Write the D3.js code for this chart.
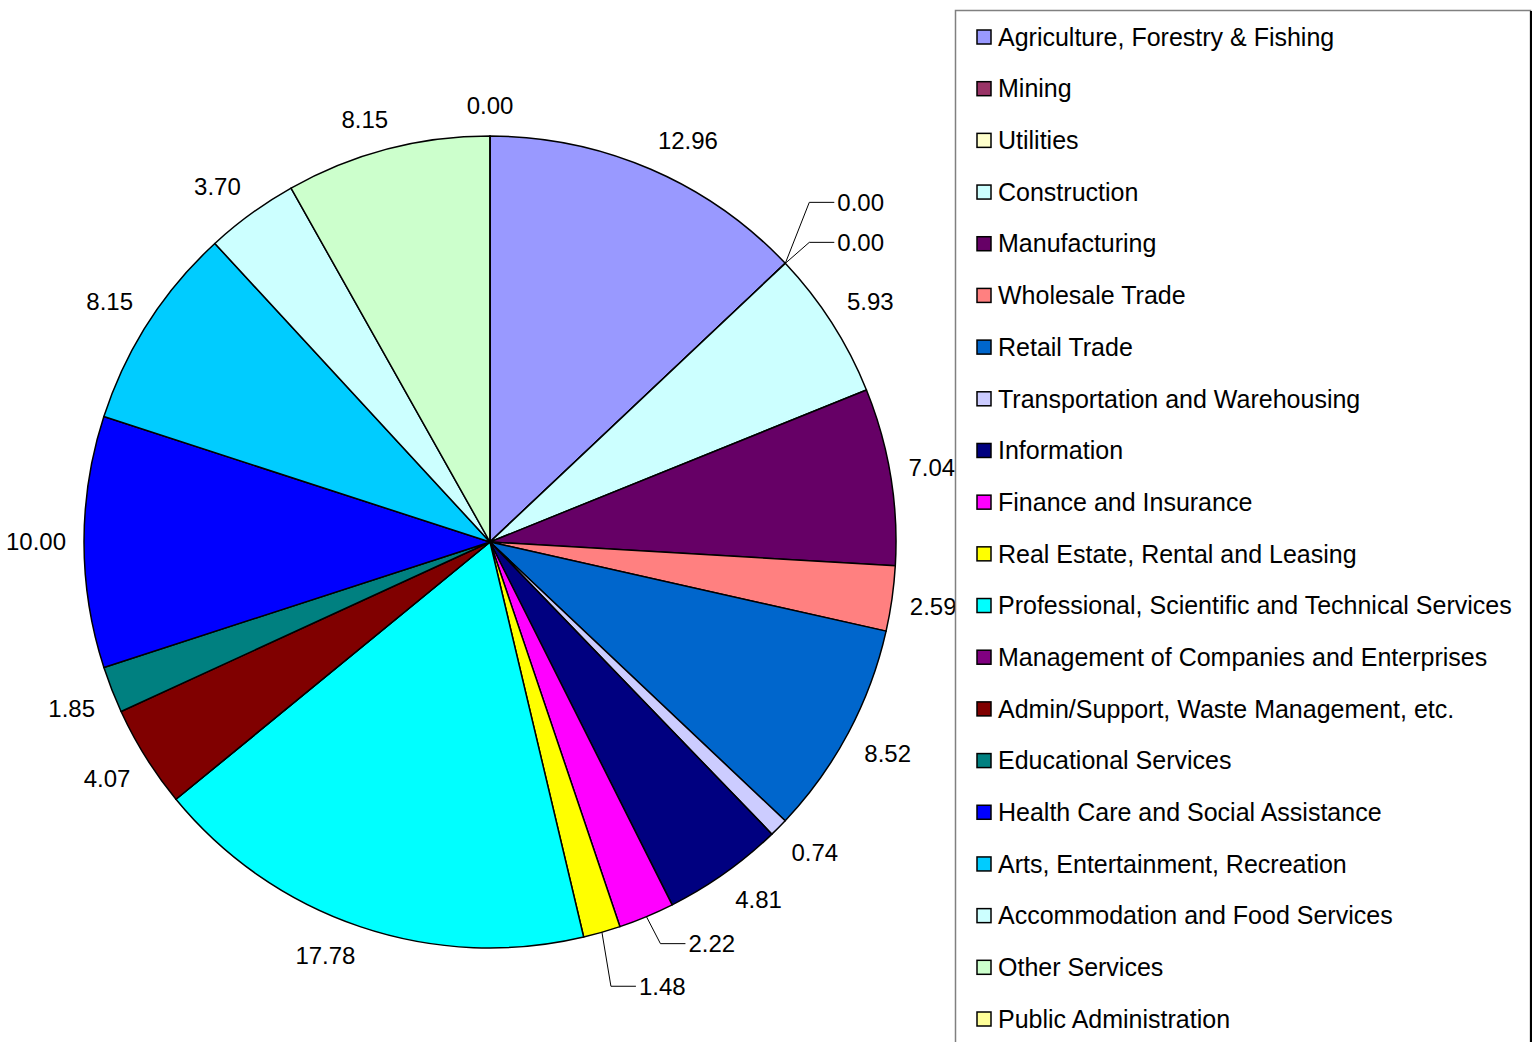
<!DOCTYPE html>
<html>
<head>
<meta charset="utf-8">
<script src="https://cdn.jsdelivr.net/npm/d3@7"></script>
<style>
  html, body { margin: 0; padding: 0; background: #fff; }
  svg { display: block; font-family: "Liberation Sans", Arial, sans-serif; }
</style>
</head>
<body>
<svg id="chart" width="1538" height="1042"></svg>
<script>
const categories = [
  "Agriculture, Forestry & Fishing",
  "Mining",
  "Utilities",
  "Construction",
  "Manufacturing",
  "Wholesale Trade",
  "Retail Trade",
  "Transportation and Warehousing",
  "Information",
  "Finance and Insurance",
  "Real Estate, Rental and Leasing",
  "Professional, Scientific and Technical Services",
  "Management of Companies and Enterprises",
  "Admin/Support, Waste Management, etc.",
  "Educational Services",
  "Health Care and Social Assistance",
  "Arts, Entertainment, Recreation",
  "Accommodation and Food Services",
  "Other Services",
  "Public Administration"
];
const values = [12.96, 0.00, 0.00, 5.93, 7.04, 2.59, 8.52, 0.74, 4.81, 2.22, 1.48, 17.78, 0.00, 4.07, 1.85, 10.00, 8.15, 3.70, 8.15, 0.00];
const colors = ["#9999FF", "#993366", "#FFFFCC", "#CCFFFF", "#660066", "#FF8080", "#0066CC", "#CCCCFF", "#000080", "#FF00FF", "#FFFF00", "#00FFFF", "#800080", "#800000", "#008080", "#0000FF", "#00CCFF", "#CCFFFF", "#CCFFCC", "#FFFF99"];

const svg = d3.select("#chart");
const cx = 490, cy = 542, R = 406;
const labelFont = 24, legendFont = 25;

const data = categories.map((c, i) => ({ name: c, value: values[i], color: colors[i], i }));

const pie = d3.pie().sort(null).value(d => d.value).startAngle(0).endAngle(2 * Math.PI);
const arcs = pie(data);
const arc = d3.arc().innerRadius(0).outerRadius(R);

const g = svg.append("g").attr("transform", `translate(${cx},${cy})`);
g.selectAll("path.slice")
  .data(arcs)
  .enter().append("path")
  .attr("class", "slice")
  .attr("d", arc)
  .attr("fill", d => d.data.color)
  .attr("stroke", "#000")
  .attr("stroke-width", 1.5)
  .attr("stroke-linejoin", "round");

// label layout rules (Excel-like)
const hiddenLabels = new Set(["Management of Companies and Enterprises"]);
const leader = {
  "Mining": { dx: 24, dy: -61 },
  "Utilities": { dx: 24, dy: -21 },
  "Finance and Insurance": { dx: 14, dy: 27 },
  "Real Estate, Rental and Leasing": { dx: 9, dy: 54 }
};
const clamp = v => Math.max(-1, Math.min(1, v));
const fmt = d3.format(".2f");
const labelGap = 18, boxH = 24;

const lg = svg.append("g");
arcs.forEach(a => {
  const name = a.data.name;
  if (hiddenLabels.has(name)) return;
  const mid = (a.startAngle + a.endAngle) / 2;
  const s = Math.sin(mid), c = Math.cos(mid);
  const txt = fmt(a.data.value);
  if (leader[name]) {
    const px = cx + s * R, py = cy - c * R;
    const ex = px + leader[name].dx, ey = py + leader[name].dy;
    lg.append("path")
      .attr("d", `M${px},${py}L${ex},${ey}L${ex + 25},${ey}`)
      .attr("fill", "none").attr("stroke", "#000").attr("stroke-width", 1);
    lg.append("text")
      .attr("x", ex + 28).attr("y", ey).attr("dy", "0.35em")
      .attr("font-size", labelFont).attr("fill", "#000")
      .text(txt);
    return;
  }
  const t = lg.append("text")
    .attr("font-size", labelFont).attr("fill", "#000")
    .attr("text-anchor", "middle").attr("dy", "0.35em")
    .text(txt);
  const w = t.node().getComputedTextLength();
  const r = R + labelGap;
  const x = cx + s * r + clamp(s * 3) * w / 2;
  const y = cy - c * r - clamp(c * 3) * boxH / 2;
  t.attr("x", x).attr("y", y);
});

// legend
const legX = 955, legY = 10, legW = 575;
svg.append("rect")
  .attr("x", legX + 0.5).attr("y", legY + 0.5)
  .attr("width", legW).attr("height", 1100)
  .attr("fill", "#fff").attr("stroke", "#808080").attr("stroke-width", 1.5);
svg.append("line")
  .attr("x1", legX + legW + 1).attr("x2", legX + legW + 1)
  .attr("y1", legY + 1).attr("y2", 1042)
  .attr("stroke", "#000").attr("stroke-width", 2);

const rowY = d3.scalePoint().domain(categories).range([37, 1019]);
const leg = svg.append("g").selectAll("g")
  .data(data).enter().append("g")
  .attr("transform", d => `translate(0,${rowY(d.name)})`);
leg.append("rect")
  .attr("x", 977).attr("y", -7).attr("width", 14).attr("height", 14)
  .attr("fill", d => d.color).attr("stroke", "#000").attr("stroke-width", 1.5);
leg.append("text")
  .attr("x", 998).attr("y", 0).attr("dy", "0.35em")
  .attr("font-size", legendFont).attr("fill", "#000")
  .text(d => d.name);
</script>
</body>
</html>
